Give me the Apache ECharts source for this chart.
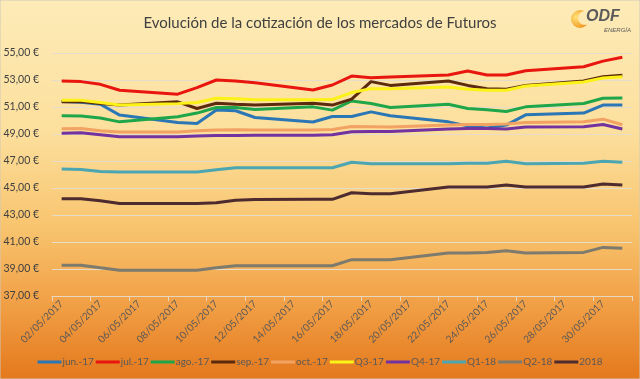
<!DOCTYPE html>
<html>
<head>
<meta charset="utf-8">
<script src="https://cdn.jsdelivr.net/npm/echarts@6/dist/echarts.min.js"></script>
<style>html,body{margin:0;padding:0;}#c{width:640px;height:379px;}</style>
</head>
<body>
<div id="c"></div>
<script>
// Trading days (May 2017) on which values were quoted
const tradingDays = [2,3,4,5,8,9,10,11,12,15,16,17,18,19,22,23,24,25,26,29,30,31];
const firstDay = 2, lastDay = 31;
const seriesNames = ['jun.-17','jul.-17','ago.-17','sep.-17','oct.-17','Q3-17','Q4-17','Q1-18','Q2-18','2018'];
const jun17 = [51.40,51.35,51.20,50.40,49.86,49.78,50.77,50.72,50.22,49.89,50.30,50.30,50.64,50.35,49.90,49.60,49.44,49.66,50.42,50.55,51.14,51.14];
const jul17 = [52.93,52.88,52.68,52.24,51.95,52.43,53.00,52.93,52.80,52.26,52.63,53.29,53.17,53.22,53.37,53.66,53.37,53.37,53.68,53.98,54.40,54.69];
const ago17 = [50.35,50.33,50.18,49.90,50.28,50.55,50.96,50.96,50.82,51.01,50.77,51.45,51.26,50.96,51.21,50.89,50.79,50.67,51.01,51.26,51.65,51.67];
const sep17 = [51.38,51.40,51.25,51.14,51.38,50.89,51.28,51.20,51.14,51.28,51.14,51.58,52.88,52.60,52.93,52.60,52.36,52.31,52.60,52.93,53.24,53.35];
const oct17 = [49.39,49.41,49.24,49.15,49.15,49.24,49.29,49.32,49.29,49.29,49.34,49.56,49.54,49.52,49.66,49.70,49.70,49.74,49.86,49.90,50.10,49.69];
const q317  = [51.50,51.50,51.33,51.14,51.25,51.33,51.65,51.62,51.53,51.53,51.55,52.07,52.36,52.36,52.48,52.31,52.24,52.24,52.56,52.85,53.15,53.24];
const q417  = [49.05,49.10,48.95,48.80,48.80,48.85,48.88,48.88,48.90,48.90,48.95,49.17,49.19,49.19,49.37,49.41,49.41,49.37,49.52,49.54,49.70,49.37];
const q118  = [46.40,46.37,46.23,46.18,46.18,46.18,46.35,46.50,46.50,46.50,46.50,46.91,46.79,46.79,46.79,46.84,46.84,46.98,46.79,46.84,46.98,46.91];
const q218  = [39.28,39.28,39.09,38.91,38.91,38.91,39.09,39.24,39.24,39.24,39.24,39.69,39.69,39.69,40.18,40.18,40.23,40.35,40.18,40.23,40.60,40.53];
const y2018 = [44.20,44.20,44.05,43.86,43.86,43.86,43.90,44.09,44.14,44.16,44.16,44.65,44.58,44.58,45.07,45.07,45.07,45.22,45.07,45.07,45.29,45.22];
const yMin = 37, yMax = 55, yStep = 2;
const titleText = 'Evolución de la cotización de los mercados de Futuros';

const colors = ['#2b77b5','#e8160f','#1fa64a','#5c2a0c','#f2a262','#fbf217','#7232a0','#4ca6b2','#7d7a6e','#4d2b2e'];
const allData = [jun17,jul17,ago17,sep17,oct17,q317,q417,q118,q218,y2018];

const pad = n => (n < 10 ? '0' : '') + n;
const label = d => pad(d) + '/05/2017';
const categories = [];
for (let d = firstDay; d <= lastDay; d++) categories.push(label(d));

const font = 'Lato, "Open Sans", sans-serif';
const chart = echarts.init(document.getElementById('c'));
chart.setOption({
  animation: false,
  color: colors,
  graphic: [
    {type:'rect', z:-10, silent:true, shape:{x:0,y:0,width:640,height:379},
     style:{fill:new echarts.graphic.LinearGradient(0,0,0,1,[
       {offset:0,color:'#fdebb8'},{offset:0.35,color:'#fcdf9c'},{offset:0.6,color:'#f8c46e'},
       {offset:0.82,color:'#f09c42'},{offset:1,color:'#e4781c'}]), stroke:'#d0c8b8', lineWidth:1}},
    {type:'circle', z:10, x:0, y:0, shape:{cx:580,cy:19,r:9},
     style:{fill:new echarts.graphic.RadialGradient(0.3,0.4,0.8,[{offset:0,color:'#ffe27a'},{offset:1,color:'#ee8a10'}])}},
    {type:'circle', z:11, x:0, y:0, shape:{cx:585,cy:18,r:7}, style:{fill:'#fde9b4'}},
    {type:'text', z:12, x:586, y:9, style:{text:'ODF', font:'italic bold 16px Arial, sans-serif', fill:'#5b5b5b'}},
    {type:'text', z:12, x:604, y:27, style:{text:'ENERGÍA', font:'italic 6px Arial, sans-serif', fill:'#5b5b5b'}}
  ],
  title: {text: titleText, left: 'center', top: 11,
    textStyle: {fontFamily: font, fontSize: 15, fontWeight: 'normal', color: '#404040'}},
  grid: {left: 52, right: 8, top: 53, bottom: 83},
  legend: {bottom: 7, left: 'center', width: 630, icon: 'rect', itemWidth: 24, itemHeight: 3, itemGap: 2,
    textStyle: {fontFamily: font, fontSize: 10, color: '#595959', padding:[0,0,0,-4]},
    data: seriesNames},
  xAxis: {type: 'category', data: categories, boundaryGap: true,
    axisLine: {lineStyle: {color: '#e8d8c0', width: 1}},
    axisTick: {show: true, interval: 1, length: 5, lineStyle: {color: '#e8d8c0'}},
    axisLabel: {interval: 1, rotate: 45, fontFamily: font, fontSize: 10, color: '#595959', margin: 6},
    splitLine: {show: false}},
  yAxis: {type: 'value', min: yMin, max: yMax, interval: yStep,
    axisLine: {show: false}, axisTick: {show: false},
    axisLabel: {fontFamily: font, fontSize: 10.5, color: '#404040', margin: 13,
      formatter: v => v.toFixed(2).replace('.', ',') + ' €'},
    splitLine: {lineStyle: {color: '#e6dccb', width: 1}}},
  series: seriesNames.map((n, i) => ({
    name: n, type: 'line', symbol: 'none', connectNulls: true,
    lineStyle: {width: 3, color: colors[i]},
    itemStyle: {color: colors[i]},
    data: tradingDays.map((d, j) => [label(d), allData[i][j]])
  }))
});
</script>
</body>
</html>
